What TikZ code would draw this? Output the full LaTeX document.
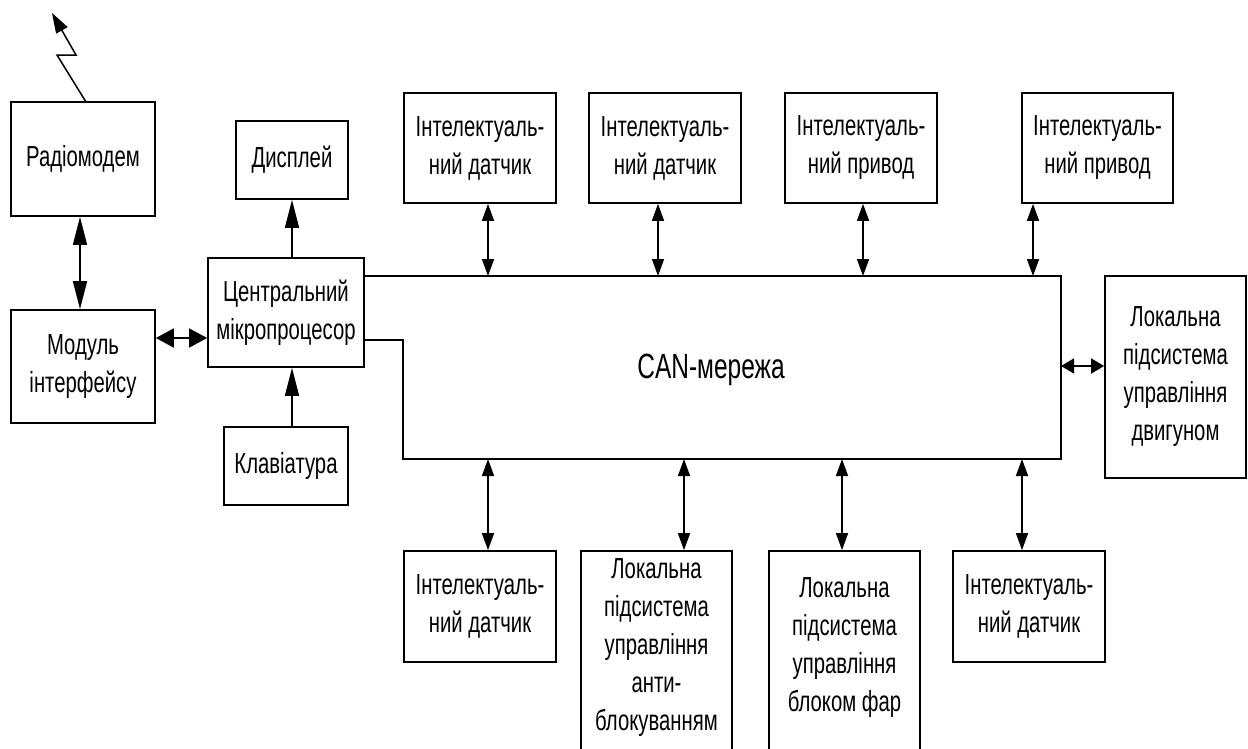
\documentclass[tikz,border=0pt]{standalone}
\usepackage{fontspec}
\setmainfont{Liberation Sans}[FakeStretch=0.70]
\usetikzlibrary{arrows.meta}
\tikzset{
  box/.style={draw, line width=1.7pt, inner sep=0pt, align=center,
    font=\fontsize{29}{38}\selectfont},
  txt/.style={inner sep=0pt, align=center, font=\fontsize{29}{38}\selectfont},
  conn/.style={line width=1.5pt},
  LT/.tip={Triangle[length=28pt,width=14pt]},
  WT/.tip={Triangle[length=18pt,width=19pt]},
  ST/.tip={Triangle[length=17pt,width=12pt]},
  RT/.tip={Triangle[length=13pt,width=15pt]},
  AT/.tip={Triangle[length=20pt,width=13pt]},
}
\begin{document}
\begin{tikzpicture}[x=1pt,y=-1pt]
\useasboundingbox (0,0) rectangle (1248,748);
\clip (0,0) rectangle (1248,748);
% left column
\node[box, minimum width=144pt, minimum height=114pt] (radio) at (83,159) {Радіомодем};
\node[box, minimum width=144pt, minimum height=113pt] (modul) at (83,366.5) {Модуль\\інтерфейсу};
\node[box, minimum width=112pt, minimum height=78pt] (disp) at (292,160) {Дисплей};
\node[box, minimum width=156pt, minimum height=109pt] (cpu) at (286,312.5) {Центральний\\мікропроцесор};
\node[box, minimum width=124pt, minimum height=78pt] (kbd) at (286,466) {Клавіатура};
% top row
\node[box, minimum width=152pt, minimum height=110pt] (t1) at (480,148) {Інтелектуаль-\\ний датчик};
\node[box, minimum width=152pt, minimum height=110pt] (t2) at (665,148) {Інтелектуаль-\\ний датчик};
\node[box, minimum width=152pt, minimum height=110pt] (t3) at (861,148) {Інтелектуаль-\\ний привод};
\node[box, minimum width=151pt, minimum height=110pt] (t4) at (1097.5,148) {Інтелектуаль-\\ний привод};
% right box
\node[box, minimum width=141pt, minimum height=202pt] (rb) at (1175.5,377) {Локальна\\підсистема\\управління\\двигуном};
% bottom row
\node[box, minimum width=152pt, minimum height=111pt] (b1) at (480,606.5) {Інтелектуаль-\\ний датчик};
\node[box, minimum width=151pt, minimum height=240pt] (b2) at (656.5,671) {};
\node[txt, anchor=north] (b2t) at (656.5,558) {Локальна\\підсистема\\управління\\анти-\\блокуванням};
\node[box, minimum width=151pt, minimum height=240pt] (b3) at (844.5,671) {};
\node[txt, anchor=north] (b3t) at (844.5,577) {Локальна\\підсистема\\управління\\блоком фар};
\node[box, minimum width=152pt, minimum height=111pt] (b4) at (1029,606.5) {Інтелектуаль-\\ний датчик};
% CAN network
\coordinate (canNE) at (1061,276);
\coordinate (canSW) at (403,459);
\coordinate (canNotch) at (403,340);
\draw[line width=1.7pt] (cpu.east |- canNE) -- (canNE) -- (canNE |- canSW) -- (canSW) -- (canNotch) -- (cpu.east |- canNotch);
\node[inner sep=0pt, anchor=base, font=\fontsize{35}{40}\selectfont] (can) at (711,378) {CAN-мережа};
% arrow x positions
\coordinate (xa) at (80,0);
\coordinate (xd) at (292,0);
\coordinate (x1) at (488,0);
\coordinate (x2) at (658,0);
\coordinate (x3) at (863,0);
\coordinate (x4) at (1033,0);
\coordinate (y1) at (488,0);
\coordinate (y2) at (684,0);
\coordinate (y3) at (842,0);
\coordinate (y4) at (1022,0);
\coordinate (ym) at (0,338);
\coordinate (yr) at (0,366);
% left arrows
\draw[conn, LT-LT] (radio.south -| xa) -- (modul.north -| xa);
\draw[conn, WT-WT] (modul.east |- ym) -- (cpu.west |- ym);
\draw[conn, -LT] (cpu.north -| xd) -- (disp.south -| xd);
\draw[conn, -LT] (kbd.north -| xd) -- (cpu.south -| xd);
% antenna
\coordinate (ant0) at (86,102);
\coordinate (ant1) at (57,55);
\coordinate (ant2) at (76,55);
\coordinate (ant3) at (52,13);
\draw[conn, -AT] (ant0) -- (ant1) -- (ant2) -- (ant3);
% top connections
\draw[conn, ST-ST] (t1.south -| x1) -- (canNE -| x1);
\draw[conn, ST-ST] (t2.south -| x2) -- (canNE -| x2);
\draw[conn, ST-ST] (t3.south -| x3) -- (canNE -| x3);
\draw[conn, ST-ST] (t4.south -| x4) -- (canNE -| x4);
% bottom connections
\draw[conn, ST-ST] (canSW -| y1) -- (b1.north -| y1);
\draw[conn, ST-ST] (canSW -| y2) -- (b2.north -| y2);
\draw[conn, ST-ST] (canSW -| y3) -- (b3.north -| y3);
\draw[conn, ST-ST] (canSW -| y4) -- (b4.north -| y4);
% right connection
\draw[conn, RT-RT] (canNE |- yr) -- (rb.west |- yr);
\end{tikzpicture}
\end{document}
